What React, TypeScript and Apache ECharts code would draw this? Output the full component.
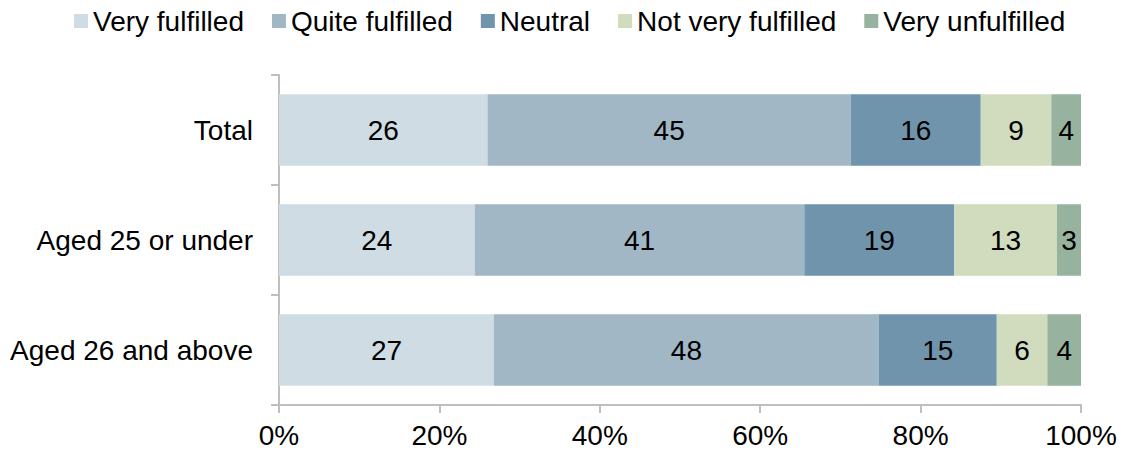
import React, { useEffect, useRef } from "react";
import * as echarts from "echarts";

const categories = ["Total", "Aged 25 or under", "Aged 26 and above"];
const seriesNames = ["Very fulfilled", "Quite fulfilled", "Neutral", "Not very fulfilled", "Very unfulfilled"];
const veryFulfilled = [26.0, 24.4, 26.8];
const quiteFulfilled = [45.3, 41.1, 48.0];
const neutral = [16.2, 18.7, 14.7];
const notVeryFulfilled = [8.8, 12.8, 6.3];
const veryUnfulfilled = [3.7, 3.0, 4.2];
const colors = ["#CFDCE3", "#A1B7C6", "#7094AC", "#D1DBBE", "#97B39F"];

export default function App() {
  const ref = useRef<HTMLDivElement>(null);
  useEffect(() => {
    if (!ref.current) return;
    const chart = echarts.init(ref.current, null, { renderer: "svg" });
    const values = [veryFulfilled, quiteFulfilled, neutral, notVeryFulfilled, veryUnfulfilled];
    const font = "Liberation Sans, Arial, sans-serif";
    chart.setOption({
      animation: false,
      textStyle: { fontFamily: font },
      legend: {
        top: 2,
        left: 69,
        itemWidth: 14,
        itemHeight: 14,
        itemGap: 28,
        icon: "rect",
        textStyle: { fontSize: 28, color: "#000", fontFamily: font },
        data: seriesNames,
      },
      grid: { left: 279, right: 45, top: 75, bottom: 49 },
      xAxis: {
        type: "value",
        min: 0,
        max: 100,
        interval: 20,
        splitLine: { show: false },
        axisLine: { show: true, lineStyle: { color: "#BFBFBF", width: 2 } },
        axisTick: { show: true, length: 8, lineStyle: { color: "#BFBFBF", width: 2 } },
        axisLabel: { fontSize: 28, color: "#000", margin: 16, formatter: "{value}%", fontFamily: font },
      },
      yAxis: {
        type: "category",
        inverse: true,
        data: categories,
        axisLine: { show: true, lineStyle: { color: "#BFBFBF", width: 2 } },
        axisTick: { show: true, length: 8, lineStyle: { color: "#BFBFBF", width: 2 } },
        axisLabel: { fontSize: 28, color: "#000", margin: 26, fontFamily: font },
      },
      series: seriesNames.map((name, i) => ({
        name,
        type: "bar",
        stack: "total",
        barCategoryGap: "35%",
        data: values[i],
        itemStyle: { color: colors[i] },
        label: {
          show: true,
          position: "inside",
          fontSize: 28,
          color: "#000",
          fontFamily: font,
          formatter: (p: any) => String(Math.round(p.value)),
        },
      })),
    });
    return () => chart.dispose();
  }, []);
  return <div ref={ref} style={{ width: 1126, height: 454, position: "absolute", left: 0, top: 0 }} />;
}
